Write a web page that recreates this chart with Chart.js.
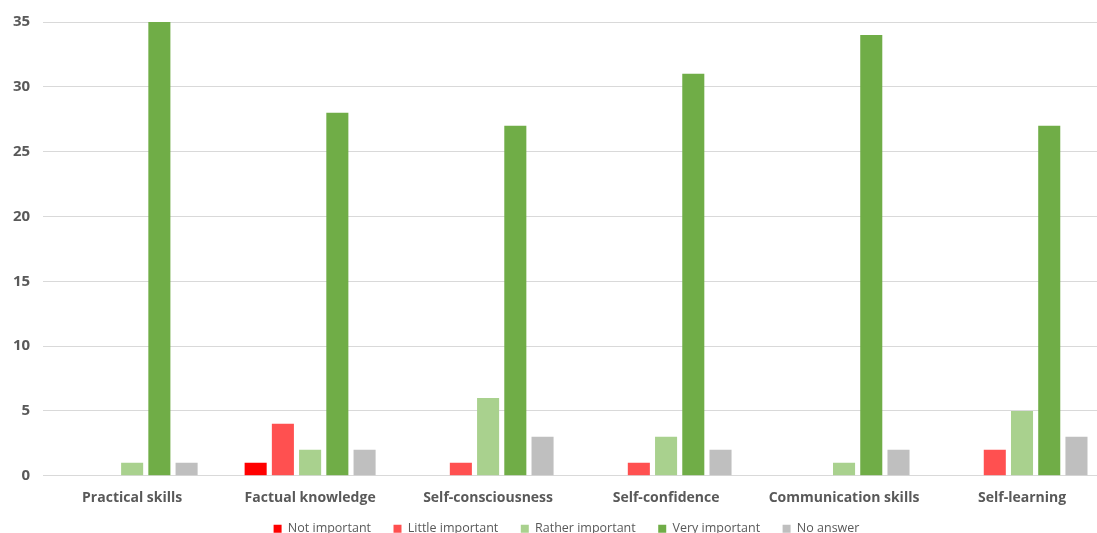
<!DOCTYPE html>
<html>
<head>
<meta charset="utf-8">
<script src="https://cdn.jsdelivr.net/npm/chart.js@4/dist/chart.umd.min.js"></script>
<style>
  html, body { margin: 0; padding: 0; background: #fff; }
  #wrap { width: 1097px; height: 533px; position: relative; overflow: hidden; }
  /* the chart is a bit larger than the frame and gets clipped on the right and bottom */
  #inner { width: 1133px; height: 539px; position: absolute; left: 0; top: 0; }
</style>
</head>
<body>
<div id="wrap"><div id="inner"><canvas id="skillsChart"></canvas></div></div>
<script>
// Survey answers per skill
const skills = ['Practical skills', 'Factual knowledge', 'Self-consciousness', 'Self-confidence', 'Communication skills', 'Self-learning'];
const notImportant = [0, 1, 0, 0, 0, 0];
const littleImportant = [0, 4, 1, 1, 0, 2];
const ratherImportant = [1, 2, 6, 3, 1, 5];
const veryImportant = [35, 28, 27, 31, 34, 27];
const noAnswer = [1, 2, 3, 2, 2, 3];
const yTicks = [0, 5, 10, 15, 20, 25, 30, 35];

const textGray = '#595959';

function series(label, data, color) {
    return {
        label: label,
        data: data,
        backgroundColor: color,
        borderWidth: 0,
        categoryPercentage: 0.765,
        barPercentage: 0.81
    };
}

// centre the legend on the full canvas width instead of the padded box
const legendShift = {
    id: 'legendShift',
    afterLayout: function(chart) {
        const pad = chart.options.layout.padding;
        const dx = (pad.right - pad.left) / 2;
        chart.legend.left += dx;
        chart.legend.right += dx;
    }
};

const ctx = document.getElementById('skillsChart').getContext('2d');
const skillsChart = new Chart(ctx, {
    type: 'bar',
    data: {
        labels: skills,
        datasets: [
            series('Not important', notImportant, '#ff0000'),
            series('Little important', littleImportant, '#ff5050'),
            series('Rather important', ratherImportant, '#a9d18e'),
            series('Very important', veryImportant, '#70ad47'),
            series('No answer', noAnswer, '#bfbfbf')
        ]
    },
    plugins: [legendShift],
    options: {
        responsive: true,
        maintainAspectRatio: false,
        animation: false,
        layout: { padding: { left: 0, right: 22, top: 16, bottom: -6 } },
        scales: {
            x: {
                grid: { display: false },
                border: { color: '#d9d9d9' },
                ticks: {
                    color: textGray,
                    font: { family: 'Open Sans', size: 14, weight: 'bold' },
                    padding: 6
                }
            },
            y: {
                min: 0,
                max: 35,
                afterBuildTicks: function(axis) {
                    axis.ticks = yTicks.map(v => ({ value: v }));
                },
                grid: { color: '#d9d9d9', drawTicks: false },
                border: { display: false },
                ticks: {
                    color: textGray,
                    font: { family: 'Open Sans', size: 15, weight: 'bold' },
                    padding: 13
                }
            }
        },
        plugins: {
            legend: {
                position: 'bottom',
                labels: {
                    color: textGray,
                    boxWidth: 8,
                    boxHeight: 8,
                    padding: 10,
                    font: { family: 'Open Sans', size: 12.5 },
                    // wider gaps between entries without making the legend taller
                    generateLabels: function(chart) {
                        const items = Chart.defaults.plugins.legend.labels.generateLabels(chart);
                        items.forEach(function(item, i) {
                            if (i < items.length - 1) item.text += '\u2002\u2002';
                        });
                        return items;
                    }
                }
            },
            tooltip: { enabled: false }
        }
    }
});
</script>
</body>
</html>
